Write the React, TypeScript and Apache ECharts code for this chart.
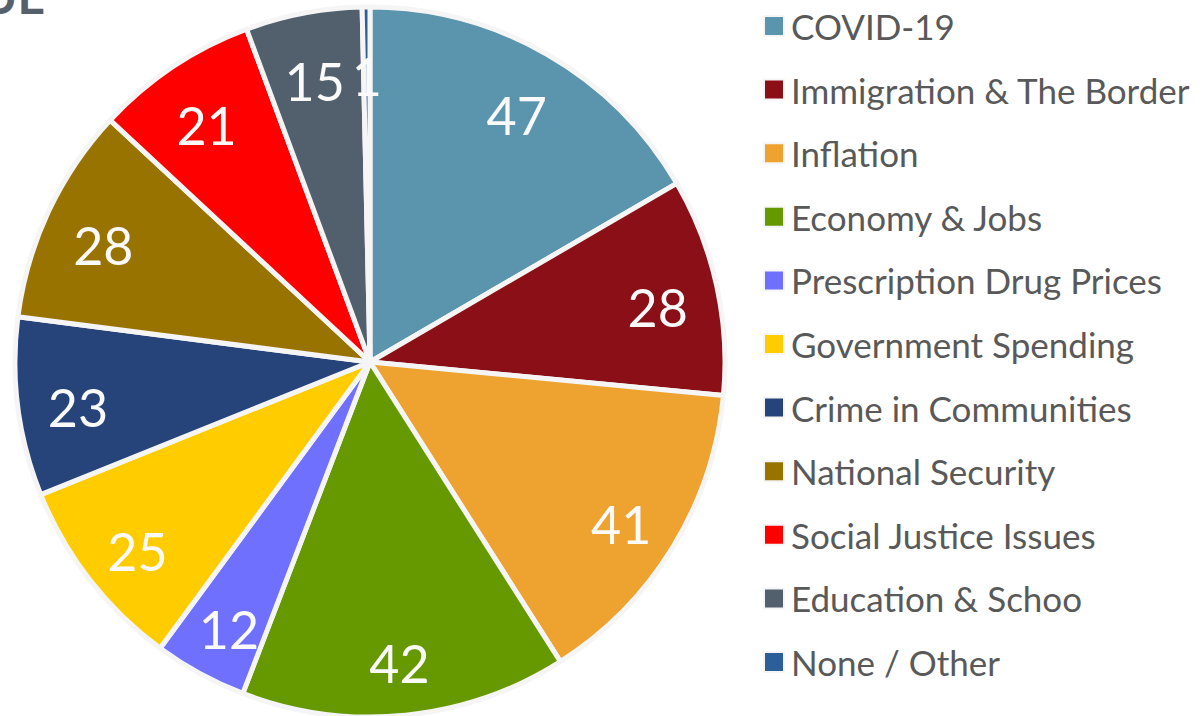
import React, { useEffect, useRef } from "react";
import * as echarts from "echarts";

const categories = [
  "COVID-19",
  "Immigration & The Border",
  "Inflation",
  "Economy & Jobs",
  "Prescription Drug Prices",
  "Government Spending",
  "Crime in Communities",
  "National Security",
  "Social Justice Issues",
  "Education & Schoo",
  "None / Other",
];
const values = [47, 28, 41, 42, 12, 25, 23, 28, 21, 15, 1];
const colors = [
  "#5a94ad",
  "#8b0f16",
  "#eea22f",
  "#669900",
  "#7070ff",
  "#ffcc00",
  "#26447a",
  "#997300",
  "#ff0000",
  "#525f6d",
  "#2c5f99",
];
const titleText = "ISSUE";

export default function App() {
  const ref = useRef<HTMLDivElement>(null);
  useEffect(() => {
    document.body.style.margin = "0";
    const chart = echarts.init(ref.current!, undefined, { renderer: "svg" });
    const data = categories.map((name, i) => ({
      name,
      value: values[i],
      itemStyle: { color: colors[i] },
    }));
    chart.setOption({
      animation: false,
      backgroundColor: "#ffffff",
      title: {
        text: titleText,
        right: 1154,
        top: -34,
        textStyle: {
          fontFamily: "Lato",
          fontSize: 48,
          fontWeight: "bold",
          color: "#55606b",
        },
      },
      legend: {
        orient: "vertical",
        left: 758,
        top: 1,
        itemWidth: 20,
        itemHeight: 20,
        itemGap: 23.6,
        icon: "rect",
        textStyle: {
          fontFamily: "Lato",
          fontSize: 35,
          lineHeight: 40,
          color: "#595959",
          padding: [0, 0, 0, 2],
        },
        data: categories,
      },
      series: [
        {
          type: "pie",
          center: [370, 362],
          radius: [0, 355],
          startAngle: 90,
          clockwise: true,
          silent: true,
          label: { show: false },
          labelLine: { show: false },
          itemStyle: { borderColor: "#f5f5f5", borderWidth: 5 },
          data,
        },
        {
          type: "pie",
          center: [370, 362],
          radius: [228, 355],
          startAngle: 90,
          clockwise: true,
          silent: true,
          itemStyle: { color: "rgba(0,0,0,0)", borderWidth: 0 },
          label: {
            show: true,
            position: "inside",
            formatter: "{c}",
            fontFamily: "Lato",
            fontSize: 52,
            color: "#fafafa",
            offset: [0, 8],
          },
          labelLine: { show: false },
          data: categories.map((name, i) => ({ name, value: values[i] })),
        },
      ],
    });
    return () => chart.dispose();
  }, []);
  return <div ref={ref} style={{ width: 1204, height: 716 }} />;
}
